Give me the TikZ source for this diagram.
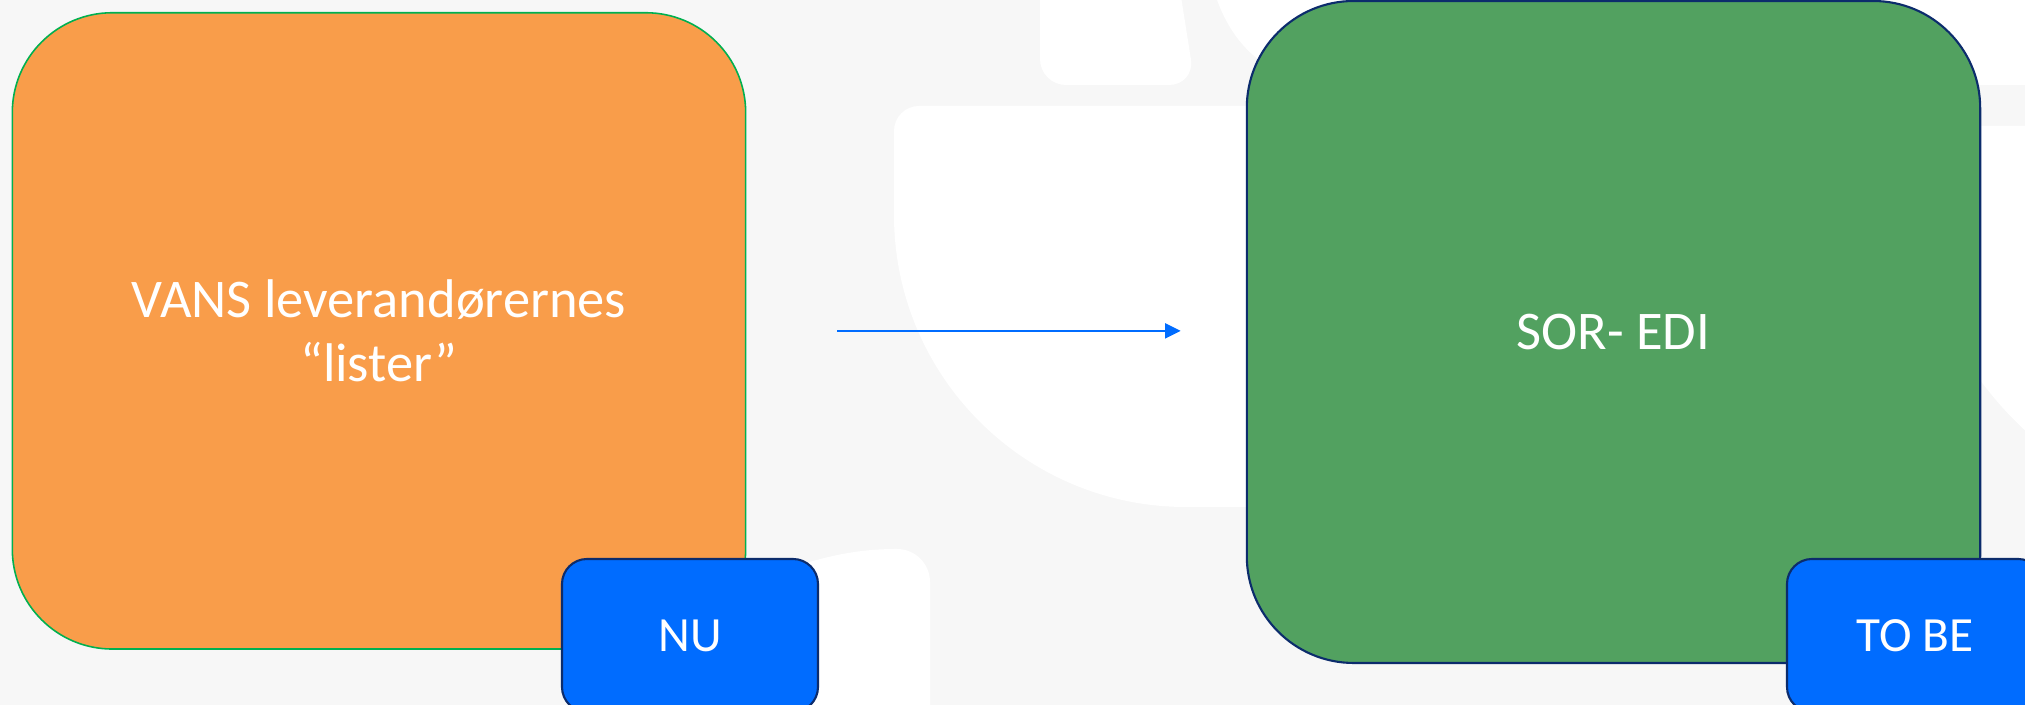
\documentclass[tikz,border=0pt]{standalone}
\usepackage{fontspec}
\setmainfont{Carlito}
\usetikzlibrary{arrows.meta}
\definecolor{bggray}{HTML}{F7F7F7}
\definecolor{vansorange}{HTML}{F99D4A}
\definecolor{edigreen}{HTML}{52A160}
\definecolor{linegreen}{HTML}{00B050}
\definecolor{navy}{HTML}{0C2C6C}
\definecolor{tagblue}{HTML}{006CFF}

\begin{document}
\begin{tikzpicture}[
  bigbox/.style={rectangle, minimum width=7.334cm, text=white, align=center, font=\fontsize{15.5}{18.2}\selectfont},
  statetag/.style={rectangle, draw=navy, line width=0.6pt, fill=tagblue, rounded corners=0.25cm, minimum width=2.56cm, minimum height=1.53cm, text=white, font=\fontsize{14}{16}\selectfont},
  flowarrow/.style={draw=tagblue, line width=0.4pt, -{Triangle[length=0.157cm,width=0.153cm]}}
]
\useasboundingbox (0,0) rectangle (20.25,7.05);
\fill[bggray] (0,0) rectangle (20.25,7.05);
% white shapes of the backdrop
\fill[white, rounded corners=0.26cm] (10.40,7.4) -- (10.40,6.20) -- (11.95,6.20) -- (11.76,7.4) -- cycle;
\fill[white] (12.10,7.3) .. controls (12.25,6.60) and (12.70,6.20) .. (13.40,6.20) -- (20.3,6.20) -- (20.3,7.3) -- cycle;
\fill[white] (8.94,4.90) -- (8.94,5.74) arc[start angle=180, end angle=90, radius=0.25] -- (13,5.99) -- (13,1.98) -- (11.86,1.98) arc[start angle=270, end angle=180, radius=2.92] -- cycle;
\fill[white] (19.5,5.79) -- (20.3,5.79) -- (20.3,2.70) .. controls (20.1,2.88) and (19.95,3.05) .. (19.8,3.25) -- (19.5,3.5) -- cycle;
\fill[white] (7.9,0) -- (7.9,1.37) .. controls (8.3,1.50) and (8.6,1.56) .. (8.97,1.56) arc[start angle=90, end angle=0, radius=0.33] -- (9.30,0) -- cycle;
% the two systems
\node[bigbox, fill=vansorange, draw=linegreen, line width=0.45pt, rounded corners=1cm, minimum height=6.363cm] (vans) at (3.79,3.741) {VANS leverandørernes\\“lister”};
\node[bigbox, fill=edigreen, draw=navy, line width=0.6pt, rounded corners=1.07cm, minimum height=6.62cm] (sor) at (16.135,3.73) {SOR- EDI};
\draw[flowarrow, shorten <=0.91cm, shorten >=0.65cm] (vans.east) -- (vans.east -| sor.west);
% state tags
\node[statetag] (nu) at (6.90,0.695) {NU};
\node[statetag] (tobe) at (19.15,0.695) {TO BE};
\end{tikzpicture}
\end{document}
